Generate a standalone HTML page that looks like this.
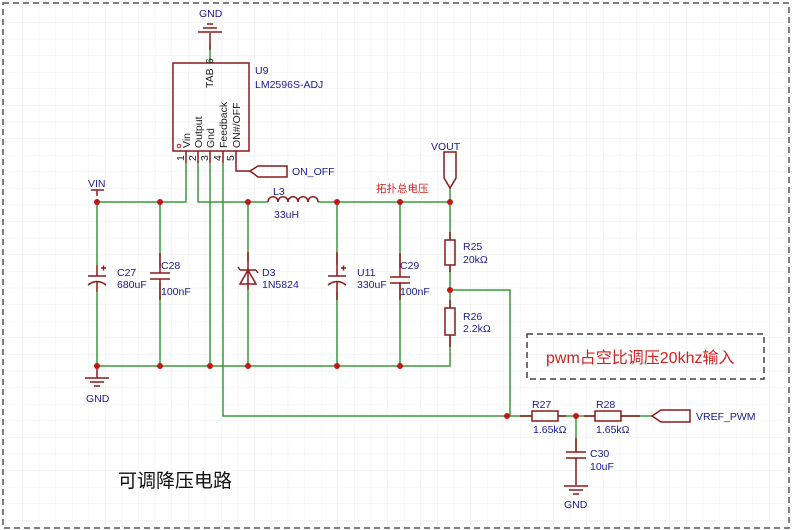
<!DOCTYPE html>
<html><head><meta charset="utf-8"><style>
html,body{margin:0;padding:0;background:#fff}
svg{display:block}
text{font-family:"Liberation Sans","Noto Sans CJK SC",sans-serif}
</style></head><body>
<svg width="792" height="530" viewBox="0 0 792 530" xmlns="http://www.w3.org/2000/svg">
<defs>
<pattern id="g" width="16.6" height="16.6" patternUnits="userSpaceOnUse" x="6" y="6">
<path d="M16.6 0V16.6H0" fill="none" stroke="#ececec" stroke-width="1"/>
</pattern>
</defs>
<rect width="792" height="530" fill="url(#g)"/>
<rect x="3" y="3" width="786" height="525" fill="none" stroke="#555" stroke-width="1.5" stroke-dasharray="6,4"/>

<g stroke="#3a9a3a" stroke-width="1.5" fill="none">
<path d="M97 202H186V163"/>
<path d="M198 163V202H268"/>
<path d="M318 202H450V188"/>
<path d="M210 163V366"/>
<path d="M223 163V416H506"/>
<path d="M97 202V265M97 292V366M97 366H450V335"/>
<path d="M160 202V268M160 282V366"/>
<path d="M248 202V262M248 290V366"/>
<path d="M337 202V265M337 292V366"/>
<path d="M400 202V268M400 282V366"/>
<path d="M450 202V240M450 265V308"/>
<path d="M450 290H510V416H532"/>
<path d="M558 416H595M620 416H652"/>
<path d="M576 416V452"/>
<path d="M210 45V63"/>
</g>

<g stroke="#8b1a1a" stroke-width="1.5" fill="none">
<rect x="173" y="63" width="76" height="88"/>
<path d="M186 151V163M198 151V163M210 151V163M223 151V163M236 151V171H250"/>
<path d="M210 33V50"/>
<path d="M198 32H222M203 28H217M207 24H213"/>
<path d="M91 190H104M97 190V196"/>
<path d="M250 171L258 166H287V177H258Z"/>
<path d="M444 152H456V178L450 188L444 178Z"/>
<path d="M268 202C268 195 278 195 278 202C278 195 288 195 288 202C288 195 298 195 298 202C298 195 308 195 308 202C308 195 318 195 318 202"/>
<path d="M97 265V276M88 276H106M88 285Q97 278 106 285M97 281V292"/>
<path d="M101 268H106M103.5 265.5V270.5"/>
<path d="M160 253V273M150 273H170M150 279H170M160 279V300"/>
<path d="M248 252V290M240 284H256L248 270Z M240 270H256M240 270L238 267M256 270L258 273"/>
<path d="M337 252V276M328 276H346M328 285Q337 278 346 285M337 281V300"/>
<path d="M341 268H346M343.5 265.5V270.5"/>
<path d="M400 253V277M390 277H410M390 283H410M400 283V300"/>
<rect x="445" y="240" width="10" height="25"/>
<rect x="445" y="308" width="10" height="27"/>
<path d="M450 232V240M450 265V272M450 300V308M450 335V347"/>
<path d="M97 366V378M85 378H109M90 382H104M94 386H100"/>
<rect x="532" y="411" width="26" height="10"/>
<rect x="595" y="411" width="26" height="10"/>
<path d="M520 416H532M558 416H566M584 416H595M621 416H640"/>
<path d="M652 416L661 410H690V422H661Z"/>
<path d="M576 438V452M566 452H586M566 458H586M576 458V485"/>
<path d="M564 486H588M569 490H583M573 494H579"/>
</g>

<g fill="#c01818">
<circle cx="97" cy="202" r="3"/><circle cx="160" cy="202" r="3"/><circle cx="248" cy="202" r="3"/>
<circle cx="337" cy="202" r="3"/><circle cx="400" cy="202" r="3"/><circle cx="450" cy="202" r="3"/>
<circle cx="97" cy="366" r="3"/><circle cx="160" cy="366" r="3"/><circle cx="210" cy="366" r="3"/>
<circle cx="248" cy="366" r="3"/><circle cx="337" cy="366" r="3"/><circle cx="400" cy="366" r="3"/>
<circle cx="450" cy="290" r="3"/><circle cx="507" cy="416" r="3"/><circle cx="576" cy="416" r="3"/>
</g>
<circle cx="179" cy="146" r="1.8" fill="none" stroke="#c01818" stroke-width="1"/>

<g font-size="10.5" fill="#222">
<text x="213" y="88" transform="rotate(-90 213 88)">TAB</text>
<text x="213" y="64" transform="rotate(-90 213 64)">6</text>
<text x="190" y="148" transform="rotate(-90 190 148)">Vin</text>
<text x="202" y="148" transform="rotate(-90 202 148)">Output</text>
<text x="214" y="148" transform="rotate(-90 214 148)">Gnd</text>
<text x="227" y="148" transform="rotate(-90 227 148)">Feedback</text>
<text x="240" y="148" transform="rotate(-90 240 148)">ON#/OFF</text>
<text x="184" y="161" transform="rotate(-90 184 161)">1</text>
<text x="196" y="161" transform="rotate(-90 196 161)">2</text>
<text x="208" y="161" transform="rotate(-90 208 161)">3</text>
<text x="221" y="161" transform="rotate(-90 221 161)">4</text>
<text x="234" y="161" transform="rotate(-90 234 161)">5</text>
</g>

<g font-size="10.5" fill="#1a1a8c">
<text x="199" y="17">GND</text>
<text x="255" y="74">U9</text>
<text x="255" y="88">LM2596S-ADJ</text>
<text x="292" y="175">ON_OFF</text>
<text x="431" y="150">VOUT</text>
<text x="88" y="187">VIN</text>
<text x="273" y="195">L3</text>
<text x="274" y="218">33uH</text>
<text x="117" y="276">C27</text>
<text x="117" y="288">680uF</text>
<text x="161" y="269">C28</text>
<text x="161" y="295">100nF</text>
<text x="262" y="276">D3</text>
<text x="262" y="288">1N5824</text>
<text x="357" y="276">U11</text>
<text x="357" y="288">330uF</text>
<text x="400" y="269">C29</text>
<text x="400" y="295">100nF</text>
<text x="463" y="250">R25</text>
<text x="463" y="263">20kΩ</text>
<text x="463" y="320">R26</text>
<text x="463" y="332">2.2kΩ</text>
<text x="86" y="402">GND</text>
<text x="532" y="408">R27</text>
<text x="533" y="433">1.65kΩ</text>
<text x="596" y="408">R28</text>
<text x="596" y="433">1.65kΩ</text>
<text x="590" y="457">C30</text>
<text x="590" y="470">10uF</text>
<text x="564" y="508">GND</text>
<text x="696" y="420">VREF_PWM</text>
</g>
<text x="376" y="192" font-size="10.5" fill="#d42020">拓扑总电压</text>

<rect x="527" y="334" width="237" height="45" fill="none" stroke="#444" stroke-width="1.5" stroke-dasharray="6,4"/>
<text x="546" y="363" font-size="16" fill="#d42020">pwm占空比调压20khz输入</text>
<text x="118" y="487" font-size="19" fill="#111">可调降压电路</text>
</svg>
</body></html>
